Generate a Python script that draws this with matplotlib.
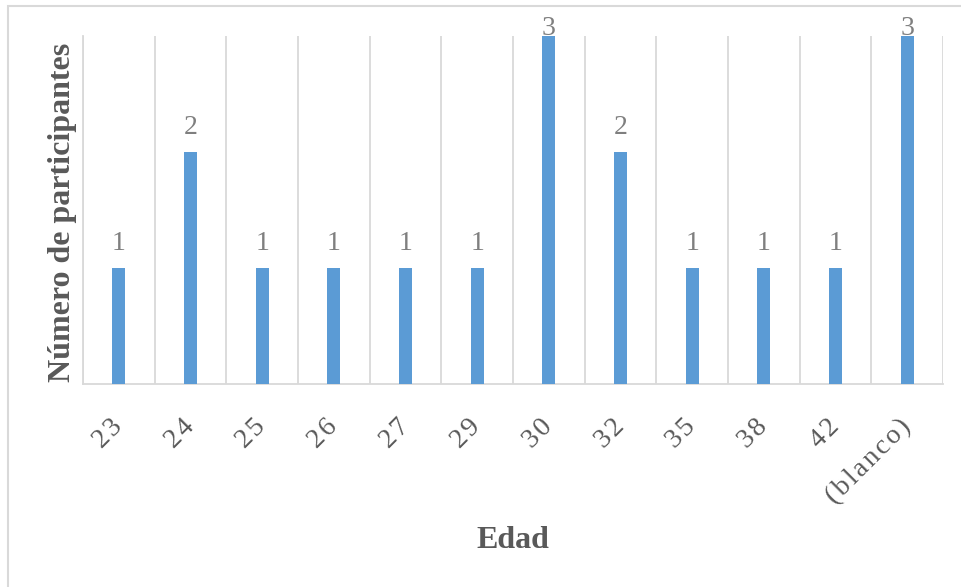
import numpy as np
import matplotlib.pyplot as plt
from matplotlib.patches import Rectangle

# edades y número de participantes
edades = ['23', '24', '25', '26', '27', '29', '30', '32', '35', '38', '42', '(blanco)']
participantes = [1, 2, 1, 1, 1, 1, 3, 2, 1, 1, 1, 3]

plt.rcParams['font.family'] = ['Liberation Serif', 'DejaVu Serif']

W, H = 961, 587
fig = plt.figure(figsize=(W / 100, H / 100), dpi=100)
ax = fig.add_axes([83 / W, 1 - 384 / H, (943 - 83) / W, (384 - 36) / H])

x = np.arange(len(edades))
ax.bar(x, participantes, width=0.18, color='#5B9BD5', zorder=3)

# etiquetas de valor encima de cada barra
vmax = max(participantes)
for xi, v in zip(x, participantes):
    off = 13 if v < vmax else 1
    ax.annotate(str(v), (xi, v), xytext=(0, off), textcoords='offset points',
                ha='center', va='baseline', fontsize=20, color='#7F7F7F',
                annotation_clip=False)

ax.set_xlim(-0.5, len(edades) - 0.5)
ax.set_ylim(0, vmax)

# líneas verticales entre categorías
ax.set_xticks(x)
ax.set_xticks(np.arange(len(edades) + 1) - 0.5, minor=True)
ax.grid(which='minor', axis='x', color='#D9D9D9', linewidth=1.3, zorder=0)
ax.tick_params(axis='x', which='both', length=0)
ax.set_yticks([])

# etiquetas con algo de espacio entre letras
espaciadas = ['\u200a'.join(e) for e in edades]
ax.set_xticklabels(espaciadas, rotation=45, ha='right', va='center',
                   rotation_mode='anchor', fontsize=20, color='#595959')
ax.tick_params(axis='x', pad=28)

for s in ['top', 'right']:
    ax.spines[s].set_visible(False)
for s in ['left', 'bottom']:
    ax.spines[s].set_color('#D9D9D9')
    ax.spines[s].set_linewidth(1.3)

fig.text(513 / W, 1 - 541 / H, 'Edad', ha='center', va='center',
         fontsize=23, fontweight='bold', color='#595959')
fig.text(63 / W, 1 - 212 / H, 'Número de participantes', ha='center', va='center',
         rotation=90, fontsize=23, fontweight='bold', color='#595959')

# marco del gráfico
fig.patches.append(Rectangle((8 / W, -0.1), 1.2, 1.1 - 6 / H, transform=fig.transFigure,
                             fill=False, edgecolor='#D9D9D9', linewidth=1.5))

fig.savefig('out.png', dpi=100)
